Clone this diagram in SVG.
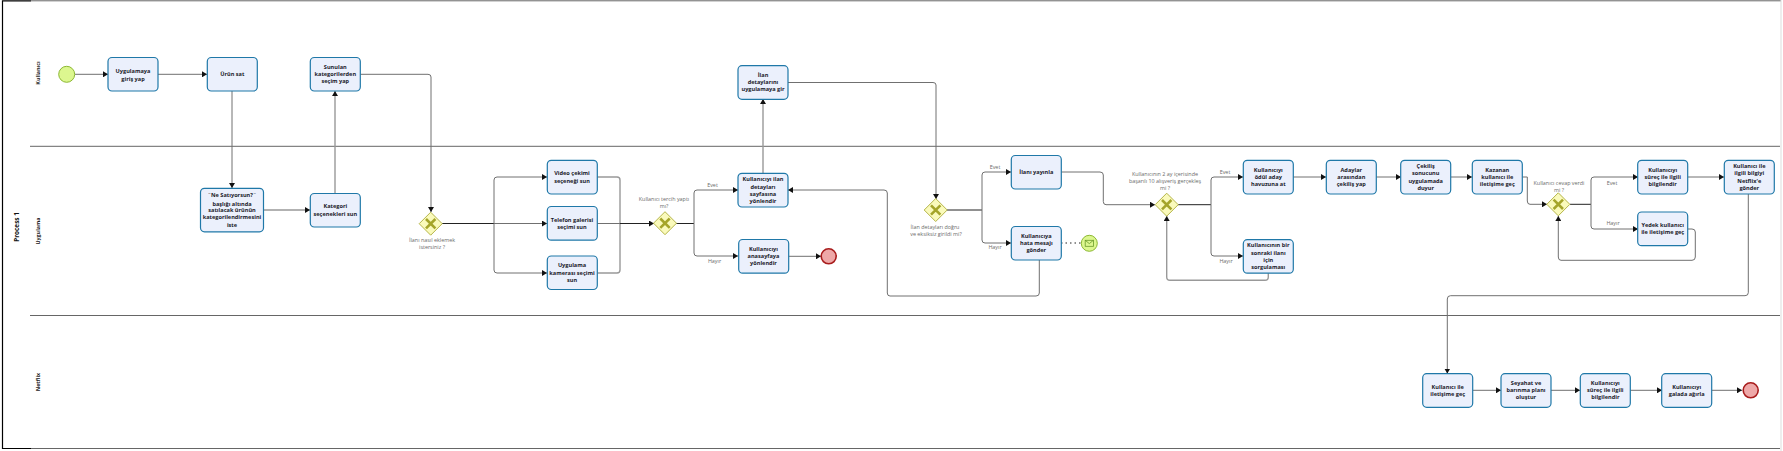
<svg xmlns="http://www.w3.org/2000/svg" width="1783" height="451" viewBox="0 0 1783 451">
<style>
text{font-family:"Open Sans","Liberation Sans",sans-serif}
.t rect{fill:#ebf0fc;stroke:#1f78a8;stroke-width:1.2}
.t text{font-size:5.6px;font-weight:700;fill:#1a1a2a;text-anchor:middle}
.l{font-size:5.4px;fill:#6a6a6a;text-anchor:middle}
.g polygon{fill:#fafabb;stroke:#b5b548;stroke-width:1}
.g path{fill:none;stroke:#a5a52a;stroke-width:2.6}
.s{fill:#dcf78f;stroke:#8cb832;stroke-width:1}
.e{fill:#eea8a8;stroke:#a81c1c;stroke-width:1.6}
.c path{fill:none;stroke:#707070;stroke-width:1;marker-end:url(#a)}
.c path.n{marker-end:none}
.c path.k{stroke:#222}
.c path.w{stroke:#999;stroke-width:1.4}
.c path.d{stroke:#222;stroke-dasharray:1.5 3}
.b{stroke:#666;stroke-width:1;fill:none}
</style>
<defs><marker id="a" markerUnits="userSpaceOnUse" markerWidth="6" markerHeight="6" refX="5" refY="3" orient="auto"><path d="M0 0L5 3L0 6z" fill="#111"/></marker></defs>
<rect width="1783" height="451" fill="#fff"/>
<g id="pool">
<path class="b" d="M31 .8H1781M31 448.5H1780"/>
<path d="M31 .8H2.5V448.5H31" fill="none" stroke="#000" stroke-width="1.2"/>
<path d="M1781 0V451" stroke="#ddd" stroke-width="1"/>
<path class="b" d="M30 146.3H1780M30 315.5H1780"/>
<text transform="translate(19 227) rotate(-90)" font-size="6.4" font-weight="700" text-anchor="middle" fill="#111">Process 1</text>
<text transform="translate(40 73) rotate(-90)" font-size="5.4" font-weight="700" text-anchor="middle" fill="#222">Kullanıcı</text>
<text transform="translate(40 231) rotate(-90)" font-size="5.4" font-weight="700" text-anchor="middle" fill="#222">Uygulama</text>
<text transform="translate(40 382) rotate(-90)" font-size="5.4" font-weight="700" text-anchor="middle" fill="#222">Netflix</text>
</g>
<g id="connectors" class="c">
<path d="M75 74.3H108"/>
<path d="M158 74.3H207"/>
<path d="M232 91V188"/>
<path class="w" d="M264 210H310"/>
<path class="w" d="M335 193V91"/>
<path d="M360 74.3H428Q431 74.3 431 77V212"/>
<path class="k n" d="M442 223.5H494"/>
<path d="M494 223.5V180Q494 177 497 177H547"/>
<path d="M494 223.5H547"/>
<path d="M494 223.5V270Q494 273 497 273H547"/>
<path class="w n" d="M597 177H617Q620 177 620 180V270Q620 273 617 273H597"/>
<path class="n" d="M597 223.5H620"/>
<path class="k" d="M620 223.5H654"/>
<path class="k n" d="M676 223.5H694"/>
<path d="M694 223.5V193Q694 190 697 190H738"/>
<path d="M694 223.5V253Q694 256 697 256H738"/>
<path class="w" d="M763 173V99"/>
<path d="M788.5 256.3H821"/>
<path d="M788 82.5H933Q936 82.5 936 85V199"/>
<path d="M1039.3 260V293Q1039.3 296 1036 296H890Q887.3 296 887.3 293V193Q887.3 190 884 190H788"/>
<path class="k n" d="M947 210H982"/>
<path d="M982 210V175Q982 172 985 172H1011"/>
<path d="M982 210V240Q982 243 985 243H1011"/>
<path class="n d" d="M1061 243H1081"/>
<path d="M1061 172H1100Q1103.3 172 1103.3 175V201.500Q1103.3 204.7 1106 204.7H1155"/>
<path class="k n" d="M1178 204.7H1211"/>
<path d="M1211 204.7V180Q1211 177 1214 177H1243"/>
<path d="M1211 204.7V253Q1211 256 1214 256H1243"/>
<path class="w" d="M1268.3 273V277Q1268.3 280.3 1265 280.3H1170Q1166.7 280.3 1166.7 277V216"/>
<path d="M1293 177H1326"/>
<path d="M1376 177H1401"/>
<path d="M1451 177H1472"/>
<path d="M1522 177H1527.3V201Q1527.3 204.3 1530 204.3H1547"/>
<path class="k n" d="M1570 204.3H1591"/>
<path d="M1591 204.3V180Q1591 177 1594 177H1638"/>
<path d="M1591 204.3V226Q1591 229 1594 229H1638"/>
<path d="M1688 229H1692Q1695.3 229 1695.3 232V257Q1695.3 260.3 1692 260.3H1561Q1558.3 260.3 1558.3 257V216"/>
<path d="M1688 177H1724"/>
<path d="M1748.3 194V292.7Q1748.3 295.7 1745 295.7H1450.5Q1447.3 295.7 1447.3 299V373.5"/>
<path d="M1473 390.3H1501"/>
<path d="M1551 390.3H1580"/>
<path d="M1630 390.3H1662"/>
<path d="M1712 390.3H1742"/>
</g>
<g id="start"><circle class="s" cx="66.7" cy="74.3" r="8"/></g>
<g id="t1" class="t"><rect x="108" y="57.5" width="50" height="33.5" rx="4"/><text x="133" y="73">Uygulamaya</text><text x="133" y="81">giriş yap</text></g>
<g id="t2" class="t"><rect x="207.3" y="57.5" width="50" height="33.5" rx="4"/><text x="232.3" y="76">Ürün sat</text></g>
<g id="t3" class="t"><rect x="310.3" y="57.5" width="50" height="33.5" rx="4"/><text x="335.3" y="69">Sunulan</text><text x="335.3" y="76">kategorilerden</text><text x="335.3" y="83">seçim yap</text></g>
<g id="t4" class="t"><rect x="200.5" y="188.3" width="63" height="43.5" rx="4"/><text x="232" y="197">¨Ne Satıyorsun?¨</text><text x="232" y="205.5">başlığı altında</text><text x="232" y="212">satılacak ürünün</text><text x="232" y="219">kategorilendirmesini</text><text x="232" y="226.5">iste</text></g>
<g id="t5" class="t"><rect x="310.3" y="193.5" width="50" height="33.5" rx="4"/><text x="335.3" y="208">Kategori</text><text x="335.3" y="216">seçenekleri sun</text></g>
<g id="g1" class="g"><polygon points="430.7,212.2 442.2,223.7 430.7,235.2 419.2,223.7"/><path d="M426 219L435.4 228.4M435.4 219L426 228.4"/></g>
<text class="l" x="432" y="241.5">İlanı nasıl eklemek</text><text class="l" x="432" y="248.5">istersiniz ?</text>
<g id="t6" class="t"><rect x="547.3" y="160.3" width="50" height="33.7" rx="4"/><text x="572" y="175">Video çekimi</text><text x="572" y="183">seçeneği sun</text></g>
<g id="t7" class="t"><rect x="547.3" y="206.5" width="50" height="33.7" rx="4"/><text x="572" y="222">Telefon galerisi</text><text x="572" y="229">seçimi sun</text></g>
<g id="t8" class="t"><rect x="547.3" y="256" width="50" height="33.5" rx="4"/><text x="572" y="267">Uygulama</text><text x="572" y="275">kamerası seçimi</text><text x="572" y="282">sun</text></g>
<g id="g2" class="g"><polygon points="665,211.7 676.5,223.2 665,234.7 653.5,223.2"/><path d="M660.3 218.5L669.7 227.9M669.7 218.5L660.3 227.9"/></g>
<text class="l" x="664" y="201">Kullanıcı tercih yaptı</text><text class="l" x="664" y="208">mı?</text>
<text class="l" x="712.5" y="187">Evet</text>
<text class="l" x="714.5" y="263">Hayır</text>
<g id="t9" class="t"><rect x="738" y="65.7" width="50" height="33.6" rx="4"/><text x="763" y="77">İlan</text><text x="763" y="84">detaylarını</text><text x="763" y="91">uygulamaya gir</text></g>
<g id="t10" class="t"><rect x="738" y="173.3" width="50" height="33.7" rx="4"/><text x="763" y="181">Kullanıcıyı ilan</text><text x="763" y="189">detayları</text><text x="763" y="196">sayfasına</text><text x="763" y="203">yönlendir</text></g>
<g id="t11" class="t"><rect x="738.7" y="239.5" width="50" height="33.7" rx="4"/><text x="763.5" y="251">Kullanıcıyı</text><text x="763.5" y="258">anasayfaya</text><text x="763.5" y="265">yönlendir</text></g>
<g id="e1"><circle class="e" cx="828.7" cy="256.3" r="7.5"/></g>
<g id="g3" class="g"><polygon points="935.7,198.5 947.2,210 935.7,221.5 924.2,210"/><path d="M931 205.3L940.4 214.7M940.4 205.3L931 214.7"/></g>
<text class="l" x="935" y="229">İlan detayları doğru</text><text class="l" x="936" y="236">ve eksiksiz girildi mi?</text>
<text class="l" x="995" y="169">Evet</text>
<text class="l" x="995" y="249">Hayır</text>
<g id="t12" class="t"><rect x="1011.3" y="155.5" width="50" height="33.5" rx="4"/><text x="1036.3" y="174">İlanı yayınla</text></g>
<g id="t13" class="t"><rect x="1011.3" y="226.5" width="50" height="33.5" rx="4"/><text x="1036.3" y="238">Kullanıcıya</text><text x="1036.3" y="245">hata mesajı</text><text x="1036.3" y="252">gönder</text></g>
<g id="m1"><circle class="s" cx="1089.3" cy="243.3" r="8"/><rect x="1085.2" y="240.3" width="8.2" height="6" fill="none" stroke="#6a9a2a" stroke-width=".8"/><path d="M1085.2 240.3L1089.3 243.6L1093.4 240.3" fill="none" stroke="#6a9a2a" stroke-width=".8"/></g>
<g id="g4" class="g"><polygon points="1166.7,193.2 1178.2,204.7 1166.7,216.2 1155.2,204.7"/><path d="M1162 200L1171.4 209.4M1171.4 200L1162 209.4"/></g>
<text class="l" x="1165" y="176">Kullanıcının 2 ay içerisinde</text><text class="l" x="1165" y="183">başarılı 10 alışveriş gerçekleş</text><text class="l" x="1165" y="190">mi ?</text>
<text class="l" x="1225" y="174">Evet</text>
<text class="l" x="1226" y="263">Hayır</text>
<g id="t14" class="t"><rect x="1243.3" y="160.3" width="50" height="33.7" rx="4"/><text x="1268.3" y="172">Kullanıcıyı</text><text x="1268.3" y="179">ödül aday</text><text x="1268.3" y="186">havuzuna at</text></g>
<g id="t15" class="t"><rect x="1243.3" y="239.7" width="50" height="33.5" rx="4"/><text x="1268.3" y="247">Kullanıcının bir</text><text x="1268.3" y="255">sonraki ilanı</text><text x="1268.3" y="262">için</text><text x="1268.3" y="269">sorgulaması</text></g>
<g id="t16" class="t"><rect x="1326.3" y="160.3" width="50" height="33.7" rx="4"/><text x="1351.3" y="172">Adaylar</text><text x="1351.3" y="179">arasından</text><text x="1351.3" y="186">çekiliş yap</text></g>
<g id="t17" class="t"><rect x="1400.7" y="160.3" width="50" height="33.7" rx="4"/><text x="1425.7" y="168">Çekiliş</text><text x="1425.7" y="175">sonucunu</text><text x="1425.7" y="183">uygulamada</text><text x="1425.7" y="190">duyur</text></g>
<g id="t18" class="t"><rect x="1472.3" y="160.3" width="50" height="33.7" rx="4"/><text x="1497.3" y="172">Kazanan</text><text x="1497.3" y="179">kullanıcı ile</text><text x="1497.3" y="186">iletişime geç</text></g>
<g id="g5" class="g"><polygon points="1558.3,192.8 1569.8,204.3 1558.3,215.8 1546.8,204.3"/><path d="M1553.6 199.6L1563 209M1563 199.6L1553.6 209"/></g>
<text class="l" x="1559" y="185">Kullanıcı cevap verdi</text><text class="l" x="1559" y="192">mi ?</text>
<text class="l" x="1612" y="185">Evet</text>
<text class="l" x="1613" y="225">Hayır</text>
<g id="t19" class="t"><rect x="1637.7" y="160.3" width="50" height="33.7" rx="4"/><text x="1662.7" y="172">Kullanıcıyı</text><text x="1662.7" y="179">süreç ile ilgili</text><text x="1662.7" y="186">bilgilendir</text></g>
<g id="t20" class="t"><rect x="1637.7" y="212" width="50" height="33.7" rx="4"/><text x="1662.7" y="227">Yedek kullanıcı</text><text x="1662.7" y="234">ile iletişime geç</text></g>
<g id="t21" class="t"><rect x="1724.3" y="160.3" width="50" height="33.7" rx="4"/><text x="1749.3" y="168">Kullanıcı ile</text><text x="1749.3" y="175">ilgili bilgiyi</text><text x="1749.3" y="183">Netflix'e</text><text x="1749.3" y="190">gönder</text></g>
<g id="t22" class="t"><rect x="1422.7" y="373.7" width="50" height="33.6" rx="4"/><text x="1447.7" y="389">Kullanıcı ile</text><text x="1447.7" y="396">iletişime geç</text></g>
<g id="t23" class="t"><rect x="1501" y="373.7" width="50" height="33.6" rx="4"/><text x="1526" y="385">Seyahat ve</text><text x="1526" y="392">barınma planı</text><text x="1526" y="399">oluştur</text></g>
<g id="t24" class="t"><rect x="1580.3" y="373.7" width="50" height="33.6" rx="4"/><text x="1605.3" y="385">Kullanıcıyı</text><text x="1605.3" y="392">süreç ile ilgili</text><text x="1605.3" y="399">bilgilendir</text></g>
<g id="t25" class="t"><rect x="1661.7" y="373.7" width="50" height="33.6" rx="4"/><text x="1686.7" y="389">Kullanıcıyı</text><text x="1686.7" y="396">galada ağırla</text></g>
<g id="e2"><circle class="e" cx="1750.7" cy="390.3" r="7.5"/></g>
</svg>
